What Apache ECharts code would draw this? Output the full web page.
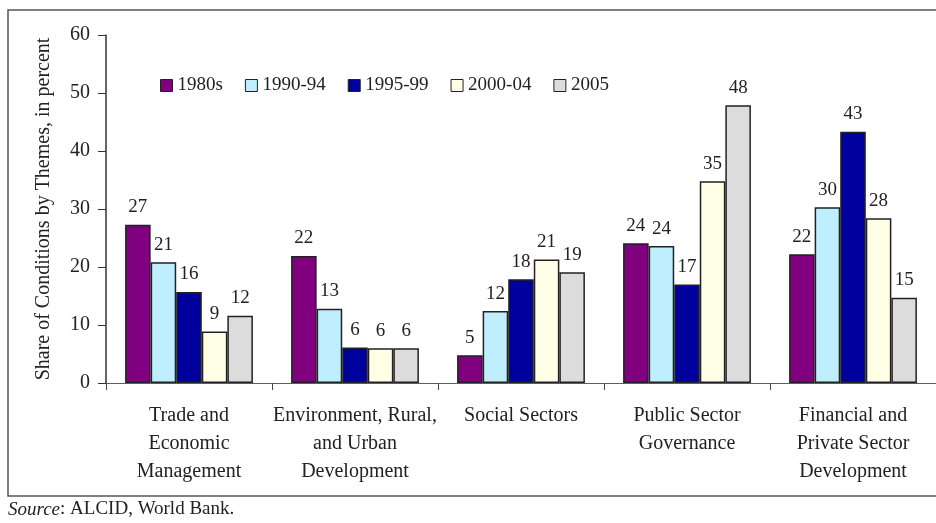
<!DOCTYPE html>
<html>
<head>
<meta charset="utf-8">
<script src="https://cdn.jsdelivr.net/npm/echarts@6/dist/echarts.min.js"></script>
<style>
  html, body { margin: 0; padding: 0; background: #fff; }
  #chart { width: 936px; height: 523px; }
</style>
</head>
<body>
<div id="chart"></div>
<script>
// themes on the x axis
const categories = [
  'Trade and\nEconomic\nManagement',
  'Environment, Rural,\nand Urban\nDevelopment',
  'Social Sectors',
  'Public Sector\nGovernance',
  'Financial and\nPrivate Sector\nDevelopment'
];
const seriesNames = ['1980s', '1990-94', '1995-99', '2000-04', '2005'];
const colors = ['#800080', '#bfeeff', '#00009c', '#ffffe6', '#dcdcdc'];

// share of conditions, percent
const v1980s = [27.3, 21.9, 4.8, 24.1, 22.2];
const v1990 = [20.8, 12.8, 12.4, 23.6, 30.3];
const v1995 = [15.7, 6.1, 17.9, 17.0, 43.3];
const v2000 = [8.9, 6.0, 21.3, 34.8, 28.4];
const v2005 = [11.6, 6.0, 19.1, 47.9, 14.7];
const yTicks = [0, 10, 20, 30, 40, 50, 60];

const serif = '"Liberation Serif", "DejaVu Serif", serif';
const allValues = [v1980s, v1990, v1995, v2000, v2005];

const series = seriesNames.map((name, i) => ({
  name: name,
  type: 'bar',
  data: allValues[i],
  barGap: '0%',
  barCategoryGap: '23%',
  itemStyle: { color: colors[i], borderColor: '#222', borderWidth: 1.5 },
  label: {
    show: true,
    position: 'top',
    distance: 8,
    fontFamily: serif,
    fontSize: 19,
    color: '#222',
    formatter: p => Math.round(p.value)
  }
}));

const chart = echarts.init(document.getElementById('chart'));
chart.setOption({
  animation: false,
  backgroundColor: '#fff',
  grid: { left: 106, top: 35, bottom: 140, right: 0 },
  legend: {
    data: seriesNames,
    left: 155,
    top: 71,
    itemWidth: 12,
    itemHeight: 12,
    itemGap: 22,
    icon: 'rect',
    itemStyle: { borderColor: '#222', borderWidth: 1 },
    textStyle: { fontFamily: serif, fontSize: 19, color: '#222' }
  },
  xAxis: {
    type: 'category',
    data: categories,
    axisLine: { lineStyle: { color: '#5a5a80', width: 1.2 } },
    axisTick: { show: true, length: 7, lineStyle: { color: '#444' } },
    axisLabel: {
      interval: 0,
      fontFamily: serif,
      fontSize: 20,
      color: '#222',
      lineHeight: 28,
      margin: 19
    }
  },
  yAxis: {
    type: 'value',
    min: yTicks[0],
    max: yTicks[yTicks.length - 1],
    interval: 10,
    name: 'Share of Conditions by Themes, in percent',
    nameLocation: 'middle',
    nameGap: 52,
    nameTextStyle: { fontFamily: serif, fontSize: 20, color: '#222' },
    axisLine: { show: true, lineStyle: { color: '#333', width: 1.5 } },
    axisTick: { show: true, length: 8, lineStyle: { color: '#333' } },
    axisLabel: { fontFamily: serif, fontSize: 20, color: '#222', margin: 16 },
    splitLine: { show: false }
  },
  graphic: [
    {
      type: 'rect',
      shape: { x: 8, y: 10, width: 940, height: 486 },
      style: { fill: null, stroke: '#555', lineWidth: 1.5 },
      silent: true,
      z: -1
    },
    {
      type: 'text',
      left: 8,
      top: 500,
      style: {
        text: '{i|Source}: ALCID, World Bank.',
        font: '19px ' + serif,
        fill: '#222',
        rich: {
          i: { fontStyle: 'italic', fontFamily: serif, fontSize: 19, fill: '#222' }
        }
      }
    }
  ],
  series: series
});
</script>
</body>
</html>
